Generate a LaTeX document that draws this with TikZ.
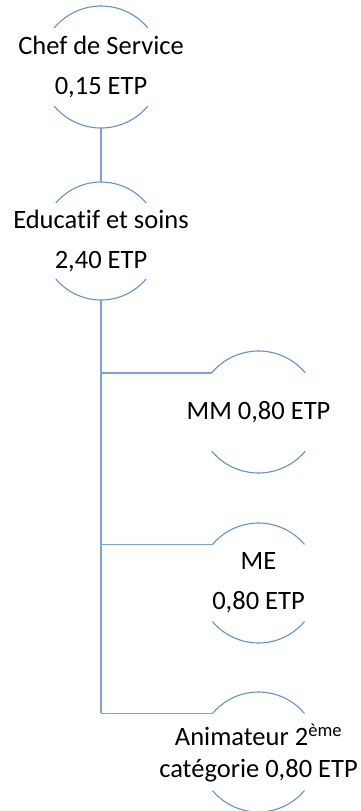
\documentclass[tikz,border=0pt]{standalone}
\usepackage{fontspec}
\setmainfont{Carlito}[RawFeature={-liga}]
\definecolor{arccol}{HTML}{6592C9}
\definecolor{conncol}{HTML}{7AA3D6}
\begin{document}
\begin{tikzpicture}[x=1pt,y=1pt,
  circ/.style={circle, draw=none, inner sep=0pt, outer sep=0pt, minimum size=#1},
  txt/.style={inner sep=0pt, align=center, font=\fontsize{26.5}{40}\selectfont},
  arcline/.style={draw=arccol, line width=1.1pt},
  conn/.style={draw=conncol, line width=1.5pt}]
\useasboundingbox (0,0) rectangle (360,-811);
\node[circ=122pt] (c1) at (101,-67) {};
\node[circ=118pt] (c2) at (101,-241) {};
\node[circ=122pt] (c3) at (258.5,-412) {};
\node[circ=120pt] (c4) at (258.5,-583) {};
\node[circ=120pt] (c5) at (258.5,-752) {};
\node[txt] (t1) at (c1) {Chef de Service\\0,15 ETP};
\node[txt] (t2) at (c2) {Educatif et soins\\2,40 ETP};
\node[txt] (t3) at (c3) {MM 0,80 ETP};
\node[txt] (t4) at (c4) {ME\\0,80 ETP};
\node[txt, font=\fontsize{26.5}{32}\selectfont] (t5) at ([yshift=-1pt]c5) {Animateur 2\textsuperscript{ème}\\catégorie 0,80 ETP};
\foreach \c/\r in {c1/61,c2/59,c3/61,c4/60,c5/60}{
  \draw[arcline] (\c.40) arc[start angle=40, end angle=140, radius=\r pt];
  \draw[arcline] (\c.220) arc[start angle=220, end angle=320, radius=\r pt];
}
\draw[conn] (c1.south) -- (c2.north);
\draw[conn] (c2.south) -- (c2.south |- c5.140);
\draw[conn] (c2.south |- c3.140) -- (c3.140);
\draw[conn] (c2.south |- c4.140) -- (c4.140);
\draw[conn] (c2.south |- c5.140) -- (c5.140);
\end{tikzpicture}
\end{document}
